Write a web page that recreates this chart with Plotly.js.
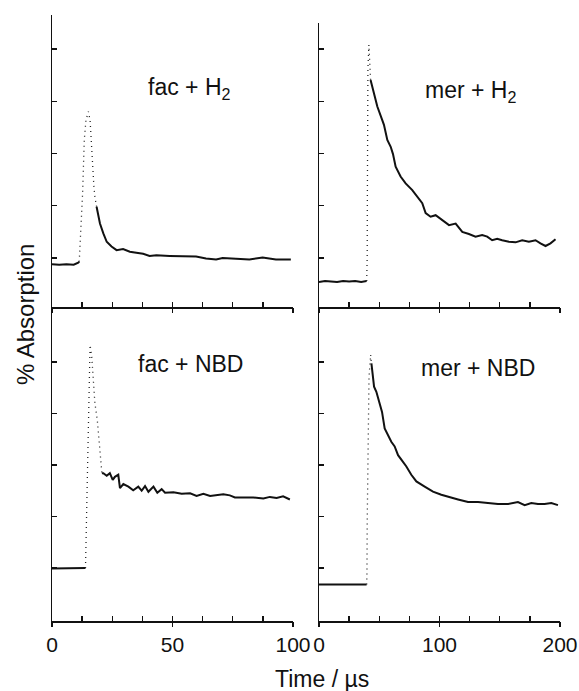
<!DOCTYPE html>
<html>
<head>
<meta charset="utf-8">
<script src="https://cdn.plot.ly/plotly-3.0.1.min.js"></script>
<style>html,body{margin:0;padding:0;background:#fff;}#chart{width:579px;height:691px;}</style>
</head>
<body>
<div id="chart"></div>
<script>
// ---- fac + H2 (time in µs, absorption in tick units) ----
const facH2BaseT = [0, 3, 6, 9, 10.9, 11.3];
const facH2BaseY = [0.88, 0.87, 0.88, 0.87, 0.91, 0.93];
const facH2JumpT = [11.3, 11.6, 12.3, 12.7, 13.0, 13.4, 14.1, 15.1, 15.8, 16.2, 16.7, 17.4, 17.8, 18.5];
const facH2JumpY = [0.93, 1.22, 1.66, 2.24, 2.68, 3.26, 3.64, 3.80, 3.64, 3.26, 2.75, 2.36, 2.17, 1.98];
const facH2DecayT = [18.5, 19.9, 21.3, 22.7, 24.7, 26.8, 29.5, 32.3, 35.0, 37.8, 40.5, 43.3, 48.8, 54.3, 59.8, 63.9, 68.1, 70.8, 76.3, 81.9, 87.4, 92.9, 99.1];
const facH2DecayY = [1.98, 1.66, 1.47, 1.31, 1.22, 1.15, 1.17, 1.12, 1.10, 1.08, 1.04, 1.05, 1.04, 1.04, 1.03, 0.99, 0.97, 1.00, 0.99, 0.97, 1.01, 0.97, 0.97];

// ---- mer + H2 ----
const merH2BaseT = [0, 5, 10, 15, 20, 25, 30, 35, 39.5];
const merH2BaseY = [0.54, 0.56, 0.55, 0.54, 0.56, 0.55, 0.56, 0.54, 0.56];
const merH2JumpT = [39.6, 40.0, 40.1, 40.2, 40.3, 40.4, 40.6, 41.4, 42.8];
const merH2JumpY = [0.56, 1.03, 1.98, 3.00, 3.45, 4.02, 4.63, 5.08, 4.41];
const merH2DecayT = [42.8, 45.6, 48.4, 52.5, 53.9, 56.7, 59.5, 61.4, 63.6, 67.7, 71.9, 77.4, 82.9, 85.7, 88.5, 92.6, 96.8, 102.3, 107.9, 113.4, 118.9, 124.4, 129.9, 135.4, 139.6, 143.7, 147.9, 152.0, 157.6, 163.1, 168.6, 174.2, 179.7, 183.8, 188.0, 192.1, 196.3];
const merH2DecayY = [4.41, 4.15, 3.90, 3.64, 3.55, 3.26, 3.13, 2.99, 2.75, 2.56, 2.43, 2.30, 2.14, 2.05, 1.86, 1.79, 1.82, 1.73, 1.63, 1.66, 1.50, 1.46, 1.41, 1.44, 1.41, 1.34, 1.37, 1.34, 1.31, 1.30, 1.34, 1.31, 1.34, 1.28, 1.23, 1.28, 1.36];

// ---- fac + NBD ----
const facNBDBaseT = [0, 4, 8, 12, 13.9];
const facNBDBaseY = [0.99, 0.99, 0.99, 0.99, 1.00];
const facNBDJumpT = [13.9, 14.1, 14.4, 14.7, 15.1, 15.5, 15.8, 16.5, 17.2, 17.8, 18.8, 19.6, 20.3, 20.7];
const facNBDJumpY = [1.00, 1.41, 2.13, 3.03, 3.81, 4.71, 5.33, 5.10, 4.65, 4.20, 3.87, 3.49, 3.10, 2.84];
const facNBDDecayT = [20.7, 21.3, 22.7, 24.0, 25.2, 26.1, 27.5, 28.2, 29.6, 31.7, 33.7, 35.8, 37.2, 38.6, 40.0, 42.1, 43.7, 45.5, 46.9, 50.4, 53.8, 57.3, 60.0, 62.8, 65.6, 68.3, 71.1, 73.8, 75.9, 79.4, 83.5, 87.7, 90.4, 93.2, 95.9, 98.7];
const facNBDDecayY = [2.84, 2.84, 2.79, 2.84, 2.71, 2.77, 2.81, 2.55, 2.63, 2.58, 2.51, 2.58, 2.50, 2.59, 2.48, 2.58, 2.46, 2.53, 2.46, 2.47, 2.44, 2.45, 2.40, 2.44, 2.40, 2.41, 2.43, 2.41, 2.37, 2.37, 2.37, 2.35, 2.38, 2.36, 2.39, 2.33];

// ---- mer + NBD ----
const merNBDBaseT = [0, 10, 20, 30, 39.5];
const merNBDBaseY = [0.68, 0.68, 0.68, 0.68, 0.68];
const merNBDJumpT = [39.6, 39.8, 40.0, 40.2, 40.4, 40.6, 40.9, 41.5, 42.9, 43.5];
const merNBDJumpY = [0.68, 0.90, 1.87, 2.45, 3.03, 3.62, 4.30, 4.71, 5.14, 4.97];
const merNBDDecayT = [43.5, 45.7, 47.6, 50.4, 52.3, 54.5, 57.3, 60.0, 62.8, 65.6, 69.7, 72.5, 76.6, 80.8, 87.7, 94.6, 101.5, 108.5, 115.4, 123.7, 132.0, 140.2, 148.5, 156.8, 165.1, 170.7, 176.2, 181.7, 187.2, 192.8, 198.3];
const merNBDDecayY = [4.97, 4.52, 4.42, 4.17, 4.03, 3.71, 3.58, 3.45, 3.36, 3.19, 3.06, 2.97, 2.81, 2.68, 2.58, 2.48, 2.42, 2.37, 2.33, 2.28, 2.28, 2.26, 2.24, 2.24, 2.28, 2.22, 2.26, 2.24, 2.24, 2.26, 2.22];

// ---- labels / ticks ----
const panelLabels = ['fac + H<sub>2</sub>', 'mer + H<sub>2</sub>', 'fac + NBD', 'mer + NBD'];
const xTitle = 'Time / µs';
const yTitle = '% Absorption';
const yTickVals = [1, 2, 3, 4, 5];
const leftTickVals = [0, 50, 100];
const leftTickText = ['0', '50', '100'];
const rightTickVals = [0, 100, 200];
const rightTickText = ['0', '100', '200'];

const FONT = 'Liberation Sans, Arial, Helvetica, sans-serif';
const W = 579, H = 691;
const px = v => v / W;
const py = v => (H - v) / H;

const solid = {color: '#111', width: 2};
const dotted = {color: '#222', width: 1.3, dash: '1px,4px'};

function seg(t, y, ax, line) {
  return {x: t, y: y, xaxis: ax[0], yaxis: ax[1], mode: 'lines', line: line, hoverinfo: 'skip', showlegend: false};
}

const panels = [
  [facH2BaseT, facH2BaseY, facH2JumpT, facH2JumpY, facH2DecayT, facH2DecayY, ['x', 'y'], 'x5'],
  [merH2BaseT, merH2BaseY, merH2JumpT, merH2JumpY, merH2DecayT, merH2DecayY, ['x2', 'y2'], 'x6'],
  [facNBDBaseT, facNBDBaseY, facNBDJumpT, facNBDJumpY, facNBDDecayT, facNBDDecayY, ['x3', 'y3'], 'x7'],
  [merNBDBaseT, merNBDBaseY, merNBDJumpT, merNBDJumpY, merNBDDecayT, merNBDDecayY, ['x4', 'y4'], 'x8']
];
const data = [];
panels.forEach(p => {
  data.push(seg(p[0], p[1], p[6], solid));
  data.push(seg(p[2], p[3], p[6], dotted));
  data.push(seg(p[4], p[5], p[6], solid));
  // invisible copy so that the overlaid tick-label axis is drawn
  const ghost = seg(p[4], p[5], [p[7], p[6][1]], {color: 'rgba(0,0,0,0)', width: 0});
  ghost.opacity = 0;
  data.push(ghost);
});

const leftDom = [px(52), px(293)];
const rightDom = [px(319), px(560)];

function xInner(dom, rng, dt, anchor) {
  return {domain: dom, range: rng, anchor: anchor, showgrid: false, zeroline: false,
    showline: true, linecolor: '#111', linewidth: 2, ticks: 'inside', ticklen: 5, tickwidth: 1.3,
    tickcolor: '#111', tick0: 0, dtick: dt, showticklabels: false, fixedrange: true};
}
function xOuter(over, rng, vals, text, anchor, labels) {
  return {overlaying: over, range: rng, anchor: anchor, side: 'bottom', showgrid: false, zeroline: false,
    showline: false, ticks: 'outside', ticklen: 5, tickwidth: 1.3, tickcolor: '#111',
    tickmode: 'array', tickvals: vals, ticktext: text,
    showticklabels: labels, tickfont: {family: FONT, size: 21, color: '#111'}, fixedrange: true};
}
function yAx(dom, rng, anchor) {
  return {domain: dom, range: rng, anchor: anchor, showgrid: false, zeroline: false,
    showline: true, linecolor: '#111', linewidth: 1.5, ticks: 'inside', ticklen: 5, tickwidth: 1.3,
    tickcolor: '#111', tickvals: yTickVals, showticklabels: false, fixedrange: true};
}

const annFont = {family: FONT, size: 23, color: '#111'};
function ann(text, x, y, font, angle) {
  return {text: text, xref: 'paper', yref: 'paper', x: px(x), y: py(y), xanchor: 'center', yanchor: 'middle',
    showarrow: false, font: font, textangle: angle || 0};
}
const layout = {
  width: W, height: H,
  margin: {l: 0, r: 0, t: 0, b: 0},
  paper_bgcolor: '#fff', plot_bgcolor: 'rgba(0,0,0,0)',
  showlegend: false,
  xaxis: xInner(leftDom, [0, 100], 12.5, 'y'),
  xaxis2: xInner(rightDom, [0, 200], 25, 'y2'),
  xaxis3: xInner(leftDom, [0, 100], 12.5, 'y3'),
  xaxis4: xInner(rightDom, [0, 200], 25, 'y4'),
  xaxis5: xOuter('x', [0, 100], leftTickVals, leftTickText, 'y', false),
  xaxis6: xOuter('x2', [0, 200], rightTickVals, rightTickText, 'y2', false),
  xaxis7: xOuter('x3', [0, 100], leftTickVals, leftTickText, 'y3', true),
  xaxis8: xOuter('x4', [0, 200], rightTickVals, rightTickText, 'y4', true),
  yaxis: yAx([py(307), py(15)], [0.062, 5.65], 'x'),
  yaxis2: yAx([py(307), py(23)], [0.062, 5.50], 'x2'),
  yaxis3: yAx([py(621), py(311)], [-0.03, 5.99], 'x3'),
  yaxis4: yAx([py(621), py(313)], [-0.03, 5.95], 'x4'),
  annotations: [
    ann(panelLabels[0], 189, 89, annFont),
    ann(panelLabels[1], 470, 91, annFont),
    ann(panelLabels[2], 190, 364, annFont),
    ann(panelLabels[3], 478, 368, annFont),
    ann(xTitle, 322, 679, {family: FONT, size: 23, color: '#111'}),
    ann(yTitle, 25, 315, {family: FONT, size: 24, color: '#111'}, -90)
  ]
};

Plotly.newPlot('chart', data, layout, {staticPlot: true, displayModeBar: false});
</script>
</body>
</html>
